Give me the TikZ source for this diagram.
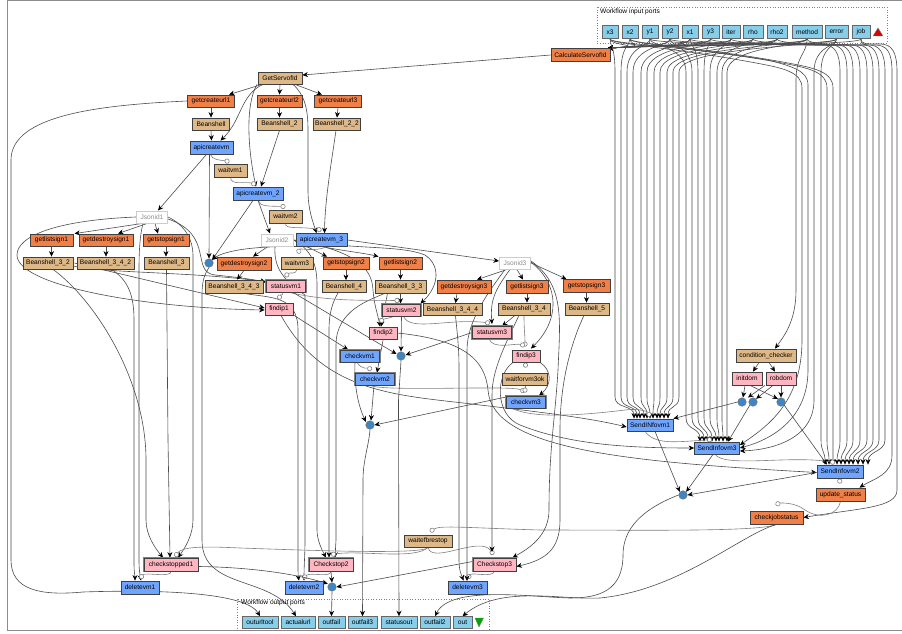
\documentclass[tikz,border=0pt]{standalone}
\usepackage{fontspec}
\setmainfont{Liberation Sans}
\usetikzlibrary{arrows.meta,backgrounds}
\definecolor{cOrange}{HTML}{F08048}
\definecolor{cTan}{HTML}{DEB887}
\definecolor{cPink}{HTML}{FFB6C1}
\definecolor{cBlue}{HTML}{6FA5FF}
\definecolor{cPort}{HTML}{87CEEB}
\definecolor{cDot}{HTML}{3D85C6}
\tikzset{
  lbl/.style={font=\fontsize{6.6}{7}\selectfont},
  box/.style={lbl,draw=black!75,line width=0.8,inner sep=0,minimum height=12},
  orangebox/.style={box,fill=cOrange},
  tanbox/.style={box,fill=cTan},
  pinkbox/.style={box,fill=cPink},
  bluebox/.style={box,fill=cBlue},
  portbox/.style={box,fill=cPort,draw=black!60,line width=1},
  jsonbox/.style={box,fill=white,draw=black!20,text=black!45,line width=1},
  dbl/.style={preaction={draw=black!50,line width=2.6}},
  dot/.style={circle,fill=cDot,draw=black!55,line width=.5,minimum size=8.5,inner sep=0},
  edge/.style={draw=black!70,line width=0.6,-{Stealth[length=5.5pt,width=5pt,color=black]}},
  ctrl/.style={draw=black!50,line width=0.6,-{Circle[open,fill=white,length=5pt,width=5pt]}},
  portframe/.style={draw=black!50,dotted,line width=0.6},
  frameline/.style={draw=black!45,line width=1.2}
}
\newcommand{\tipin}[4]{.. controls +(0,#4) and ([xshift=#3,yshift=14]#2.north) .. ([xshift=#3]#2.north)}
\newcommand{\feed}[6]{\draw[edge] (#1.south) .. controls +(0,7) and (#2,46) .. (#2,72) -- (#2,#3) \tipin{x}{#4}{#5}{#6};}
\newcommand{\feedband}[6]{\draw[edge] (#1.south) .. controls +(0,5) and (#2-50,45) .. (#2-16,45) .. controls (#2-6,45) and (#2,52) .. (#2,72) -- (#2,#3) \tipin{x}{#4}{#5}{#6};}
\newcommand{\feedslope}[6]{\draw[edge] (#1.south) .. controls +(0,5) and (#2-130,47) .. (#2-45,63) .. controls (#2-18,68) and (#2,72) .. (#2,88) -- (#2,#3) \tipin{x}{#4}{#5}{#6};}
\begin{document}
\begin{tikzpicture}[x=1pt,y=-1pt]
\useasboundingbox (0,0) rectangle (902,634);
% ports
\node[portbox,minimum width=16,minimum height=13] (px3) at (610,32) {x3};
\node[portbox,minimum width=16,minimum height=13] (px2) at (630,32) {x2};
\node[portbox,minimum width=16,minimum height=13] (py1) at (650,32) {y1};
\node[portbox,minimum width=16,minimum height=13] (py2) at (670,32) {y2};
\node[portbox,minimum width=16,minimum height=13] (px1) at (690,32) {x1};
\node[portbox,minimum width=17,minimum height=13] (py3) at (710.5,32) {y3};
\node[portbox,minimum width=18,minimum height=13] (piter) at (731,32) {iter};
\node[portbox,minimum width=20,minimum height=13] (prho) at (753,32) {rho};
\node[portbox,minimum width=20,minimum height=13] (prhotwo) at (777,32) {rho2};
\node[portbox,minimum width=30,minimum height=13] (pmethod) at (807,32) {method};
\node[portbox,minimum width=23,minimum height=13] (perror) at (836.5,32) {error};
\node[portbox,minimum width=18,minimum height=13] (pjob) at (861,32) {job};
\node[orangebox,minimum width=59,minimum height=12.5] (calc) at (580.5,55) {CalculateServofId};
\node[tanbox,minimum width=44] (getserv) at (280,78) {GetServofId};
\node[orangebox,minimum width=47] (url1) at (211,101) {getcreateurl1};
\node[orangebox,minimum width=45] (url2) at (279.5,101) {getcreateurl2};
\node[orangebox,minimum width=47] (url3) at (338,101) {getcreateurl3};
\node[tanbox,minimum width=37] (bs) at (211,124) {Beanshell};
\node[tanbox,minimum width=45] (bs2) at (279.5,124) {Beanshell\_2};
\node[tanbox,minimum width=47] (bs22) at (337,124) {Beanshell\_2\_2};
\node[bluebox,minimum width=43,minimum height=13] (api1) at (211.5,147.5) {apicreatevm};
\node[tanbox,minimum width=33,minimum height=13] (wait1) at (230.5,170.5) {waitvm1};
\node[bluebox,minimum width=50,minimum height=13] (api2) at (258,193.5) {apicreatevm\_2};
\node[tanbox,minimum width=33,minimum height=13] (wait2) at (285.5,216.5) {waitvm2};
\node[jsonbox,minimum width=31] (json1) at (152,217) {Jsonid1};
\node[orangebox,minimum width=43] (list1) at (51.5,240) {getlistsign1};
\node[orangebox,minimum width=54] (destroy1) at (106,240) {getdestroysign1};
\node[orangebox,minimum width=46] (stop1) at (166,240) {getstopsign1};
\node[tanbox,minimum width=50] (bs32) at (48,263) {Beanshell\_3\_2};
\node[tanbox,minimum width=57] (bs342) at (105.5,263) {Beanshell\_3\_4\_2};
\node[tanbox,minimum width=45] (bs3) at (166.5,263) {Beanshell\_3};
\node[dot] (dotA) at (209,263) {};
\node[orangebox,minimum width=54,minimum height=13] (destroy2) at (244,263.5) {getdestroysign2};
\node[jsonbox,minimum width=32] (json2) at (277,240) {Jsonid2};
\node[bluebox,minimum width=51,minimum height=13] (api3) at (321.5,240) {apicreatevm\_3};
\node[tanbox,minimum width=32] (wait3) at (297,263) {waitvm3};
\node[orangebox,minimum width=46] (stop2) at (346,263) {getstopsign2};
\node[orangebox,minimum width=43] (list2) at (400.5,263) {getlistsign2};
\node[tanbox,minimum width=58,minimum height=13] (bs343) at (234,286.5) {Beanshell\_3\_4\_3};
\node[pinkbox,dbl,minimum width=39] (status1) at (286,286) {statusvm1};
\node[tanbox,minimum width=44] (bs4) at (344,286.5) {Beanshell\_4};
\node[tanbox,minimum width=51,minimum height=13] (bs33) at (400.5,286.5) {Beanshell\_3\_3};
\node[orangebox,minimum width=54,minimum height=13] (destroy3) at (464,286.5) {getdestroysign3};
\node[orangebox,minimum width=42,minimum height=13] (list3) at (527,286.5) {getlistsign3};
\node[jsonbox,minimum width=31] (json3) at (515,263) {Jsonid3};
\node[orangebox,minimum width=47,minimum height=13] (stop3) at (586.5,286) {getstopsign3};
\node[tanbox,minimum width=52] (bs34) at (524,309) {Beanshell\_3\_4};
\node[tanbox,minimum width=44] (bs5) at (587,309) {Beanshell\_5};
\node[pinkbox,minimum width=28] (findip1) at (279,309) {findip1};
\node[pinkbox,dbl,minimum width=38] (status2) at (401.5,310) {statusvm2};
\node[tanbox,minimum width=59] (bs344) at (452.5,309.5) {Beanshell\_3\_4\_4};
\node[pinkbox,dbl,minimum width=39] (status3) at (492,332.5) {statusvm3};
\node[pinkbox,minimum width=28] (findip2) at (383,333) {findip2};
\node[dot] (dotB) at (401,356) {};
\node[bluebox,dbl,minimum width=39] (check1) at (360,356) {checkvm1};
\node[bluebox,dbl,minimum width=39] (check2) at (375,379) {checkvm2};
\node[pinkbox,minimum width=28] (findip3) at (526,356) {findip3};
\node[tanbox,minimum width=45] (waitok) at (525,379) {waitforvm3ok};
\node[bluebox,dbl,minimum width=39] (check3) at (526,402) {checkvm3};
\node[dot] (dotC) at (370,425) {};
\node[bluebox,minimum width=46] (send1) at (650,425) {SendINfovm1};
\node[bluebox,minimum width=45] (send3) at (717,448) {SendInfovm3};
\node[bluebox,minimum width=46,minimum height=13] (send2) at (840,471.5) {SendInfovm2};
\node[tanbox,minimum width=60,minimum height=13] (cond) at (766,355.5) {condition\_checker};
\node[pinkbox,minimum width=30,minimum height=13] (initdom) at (747,378.5) {initdom};
\node[pinkbox,minimum width=30,minimum height=13] (robdom) at (781,378.5) {robdom};
\node[dot] (dotD) at (742,402) {};
\node[dot] (dotE) at (753,402) {};
\node[dot] (dotF) at (781,402) {};
\node[dot] (dotG) at (683,495) {};
\node[orangebox,minimum width=49,minimum height=13] (update) at (840.5,494.5) {update\_status};
\node[orangebox,minimum width=53,minimum height=13] (jobstatus) at (776.5,517.5) {checkjobstatus};
\node[tanbox,minimum width=48] (waitstop) at (428,541) {waitefbrestop};
\node[pinkbox,dbl,minimum width=54,minimum height=13] (stopped1) at (171,564.5) {checkstopped1};
\node[pinkbox,dbl,minimum width=44,minimum height=13] (stopTwo) at (331,564.5) {Checkstop2};
\node[pinkbox,dbl,minimum width=43,minimum height=13] (stopThree) at (494.5,564.5) {Checkstop3};
\node[bluebox,minimum width=38,minimum height=13] (del1) at (140,587.5) {deletevm1};
\node[bluebox,minimum width=38,minimum height=13] (del2) at (304,587.5) {deletevm2};
\node[bluebox,minimum width=39,minimum height=13] (del3) at (467.5,587.5) {deletevm3};
\node[dot] (dotH) at (332,587) {};
\node[portbox,minimum width=36,minimum height=11.5] (outtool) at (260,622.5) {outurltool};
\node[portbox,minimum width=34,minimum height=11.5] (outurl) at (298,622.5) {actualurl};
\node[portbox,minimum width=27,minimum height=11.5] (outfail) at (331.5,622.5) {outfail};
\node[portbox,minimum width=29,minimum height=11.5] (outfailc) at (362.5,622.5) {outfail3};
\node[portbox,minimum width=36,minimum height=11.5] (outstatus) at (399,622.5) {statusout};
\node[portbox,minimum width=30,minimum height=11.5] (outfailb) at (435,622.5) {outfail2};
\node[portbox,minimum width=19,minimum height=11.5] (outout) at (462.5,622.5) {out};
\node[lbl,anchor=west,inner sep=0] (inlabel) at (600,11.5) {Workflow input ports};
\node[lbl,anchor=west,inner sep=0] (outlabel) at (241,603) {Workflow output ports};
\draw[draw=black!50,fill=red!85!black,line width=.4] (873,36) -- (883,36) -- (878,28) -- cycle;
\draw[draw=black!50,fill=green!65!black,line width=.4] (475,618) -- (483.5,618) -- (479,627) -- cycle;
\begin{scope}[on background layer]
\fill[white] (0,0) rectangle (902,634);
\draw[frameline] (902,0.5) -- (7.5,0.5) -- (7.5,630.5) -- (902,630.5);
\draw[portframe] (597,7) rectangle (887,43);
\draw[portframe] (237,599) rectangle (489,630);
% ports to Calculate
\foreach \p in {px3,px2,py1,py2,px1,py3,piter,prho,prhotwo,pmethod,perror,pjob}
  \draw[edge] (\p.south) .. controls +(0,7) and (650,45) .. ([xshift=-3]calc.north east);
% bundle 1
\foreach \p/\v/\t in {px3/615/-16,px2/621/-13,py1/627/-10,py2/633/-6,px1/641/-3,py3/647/0,piter/654/3,prho/660/7,prhotwo/667/10,pmethod/673/14,perror/679/18}
  {\feed{\p}{\v}{397}{send1}{\t}{12}}
% bundle 2
\foreach \p/\v/\t in {py1/686/-17,py2/692/-13,px1/698/-9,py3/704/-5,piter/710/-1,prho/717/2,prhotwo/722/6,pmethod/727/10}
  {\feed{\p}{\v}{418}{send3}{\t}{12}}
\draw[edge] (px3.south) .. controls +(0,5) and (801-130,47) .. (801-45,63) .. controls (801-18,68) and (802,72) .. (802,88) -- (802,340) .. controls (802,400) and (770,425) .. ([yshift=3]send3.east);
\draw[edge] (px2.south) .. controls +(0,5) and (808-120,47) .. (808-40,60) .. controls (808-18,66) and (808,70) .. (808,85) -- (808,370) .. controls (808,420) and (770,440) .. (send3.east);
\draw[edge] (perror.south) .. controls +(0,7) and (814,46) .. (814,72) -- (814,400) .. controls (814,440) and (770,450) .. ([yshift=-3]send3.east);
% bundle 3
\feed{perror}{821}{440}{send2}{-15}{12}
\feedslope{px3}{827}{440}{send2}{-11}{12}
\feedslope{px2}{833}{440}{send2}{-7}{12}
\foreach \p/\v/\t in {py1/840/-3,py2/847/1,px1/853/5,py3/860/9,piter/867/13,prho/873/18,prhotwo/879/23,pmethod/885/28}
  {\feedband{\p}{\v}{440}{send2}{\t}{12}}
\draw[edge] (pmethod.south) .. controls +(0,15) and (796,55) .. (796,80) -- (796,290) .. controls (796,320) and (785,335) .. ([xshift=9]cond.north);
\draw[edge] (pjob.south) .. controls +(0,5) and (860,45) .. (875,45) .. controls (887,45) and (892,52) .. (892,72) -- (892,455) .. controls (892,475) and (875,478) .. ([xshift=19]update.north);
\draw[edge] (pjob.south) .. controls +(0,5) and (865,44) .. (880,44) .. controls (892,44) and (897,52) .. (897,72) -- (897,490) .. controls (897,508) and (860,508) .. (jobstatus.east);
% top
\draw[edge] (calc.west) -- ([yshift=3]getserv.east);
\draw[edge] ([xshift=-18]getserv.south) -- ([xshift=18]url1.north);
\draw[edge] (getserv.south) -- (url2.north);
\draw[edge] ([xshift=15]getserv.south) -- ([xshift=-16]url3.north);
\draw[edge] (url1.south) -- (bs.north);
\draw[edge] (url2.south) -- (bs2.north);
\draw[edge] (url3.south) -- (bs22.north);
\draw[edge] (bs.south) -- (api1.north);
\draw[edge] ([xshift=-17]getserv.south) .. controls (240,95) and (242,120) .. ([xshift=9]api1.north);
\draw[edge] ([xshift=-23]getserv.south) .. controls (245,105) and (248,150) .. ([xshift=-2]api2.north);
\draw[edge] ([xshift=13]getserv.south) .. controls (305,95) and (308,110) .. (308,130) -- (308,190) .. controls (308,210) and (313,222) .. ([xshift=-5]api3.north);
\draw[edge] (bs2.south) -- ([xshift=3]api2.north);
\draw[edge] ([xshift=-1]bs22.south) .. controls (331,165) and (325,200) .. ([xshift=3]api3.north);
\draw[ctrl] ([xshift=-1]api1.south) .. controls (212,160) and (220,160) .. ([xshift=-1,yshift=2]wait1.north);
\draw[ctrl] (wait1.south) .. controls (231,186) and (245,181) .. ([xshift=-2,yshift=2]api2.north);
\draw[edge] ([xshift=-5]api1.south) -- ([xshift=6]json1.north);
\draw[edge] ([xshift=-2]api1.south) -- (dotA.north);
\draw[edge] ([xshift=-5]api2.south) -- (dotA.north east);
\draw[ctrl] (api2.south) .. controls (260,207) and (270,206) .. ([yshift=3]wait2.north);
\draw[ctrl] (wait2.south) .. controls (285,230) and (300,226) .. ([yshift=3]api3.north);
\draw[edge] (api2.south) -- ([xshift=-7]json2.north);
\draw[edge] ([xshift=-10]json1.south) -- ([xshift=23]list1.north);
\draw[edge] ([xshift=-5]json1.south) -- ([xshift=12]destroy1.north);
\draw[edge] ([xshift=3]json1.south) -- ([xshift=-8]stop1.north);
\draw[edge] (list1.south) -- (list1.south |- bs32.north);
\draw[edge] (destroy1.south) -- (destroy1.south |- bs342.north);
\draw[edge] (stop1.south) -- (stop1.south |- bs3.north);
\draw[edge] (json1.west) .. controls (60,220) and (17,235) .. (17,255) .. controls (17,285) and (140,308) .. ([yshift=-1]findip1.west);
\draw[edge] ([xshift=-9]json1.south) .. controls (140,235) and (139,250) .. (139,270) -- (139,560) .. controls (139,570) and (140,575) .. ([xshift=1]del1.north);
\draw[edge] ([xshift=6]bs342.south) .. controls (128,280) and (134,295) .. (134,320) -- (134,565) .. controls (134,572) and (135,576) .. ([xshift=-5]del1.north);
\draw[edge] ([xshift=5]bs32.south) .. controls (95,300) and (146,380) .. (146,460) -- (146,520) .. controls (146,535) and (155,548) .. ([xshift=-8]stopped1.north);
\draw[edge] (bs3.south) -- (168,440) -- ([xshift=-1]stopped1.north);
\draw[edge] (json1.east) .. controls (185,225) and (193,240) .. (193,255) -- (193,520) .. controls (193,535) and (185,548) .. ([xshift=7]stopped1.north);
\draw[edge] ([yshift=-2]json1.east) .. controls (215,235) and (190,272) .. (215,275) .. controls (235,277) and (250,279) .. ([yshift=4]status1.west);
\draw[edge] ([xshift=1]bs32.east) -- ([yshift=1]findip1.west);
\draw[edge] ([yshift=-3]bs32.east) .. controls (100,273) and (200,272) .. ([yshift=4]status1.west);
\draw[edge] (dotA.south) .. controls (204,275) and (202,282) .. (202,295) -- (202,540) .. controls (202,590) and (270,575) .. ([xshift=-2]outurl.north);
\draw[edge] (url1.west) .. controls (100,105) and (11,115) .. (11,160) -- (11,560) .. controls (11,590) and (40,596) .. (83,592) .. controls (140,590) and (245,590) .. (outtool.north);
\draw[edge] ([xshift=-9]json2.south) -- ([xshift=9]destroy2.north);
\draw[edge] (destroy2.south) -- ([xshift=3]bs343.north);
\draw[edge] (stop2.south) -- (stop2.south |- bs4.north);
\draw[edge] (list2.south) -- (list2.south |- bs33.north);
\draw[edge] (list3.south) -- (list3.south |- bs34.north);
\draw[edge] (stop3.south) -- (stop3.south |- bs5.north);
\draw[edge] ([xshift=-7]destroy3.south) -- ([xshift=3]bs344.north);
\draw[edge] ([xshift=-10]api3.south) .. controls (260,245) and (225,250) .. (dotA.north east);
\draw[edge] (json2.east) -- ([xshift=-19]stop2.north);
\draw[edge] (json2.east) .. controls (330,250) and (360,252) .. ([xshift=-22]list2.north);
\draw[edge] ([xshift=-2]json2.south) .. controls (274,265) and (280,278) .. (305,295) -- (305,540) .. controls (305,555) and (304,565) .. (del2.north);
\draw[edge] ([xshift=10]bs343.south) .. controls (270,298) and (298,295) .. (298,330) -- (298,560) .. controls (298,570) and (298,575) .. ([xshift=-5]del2.north);
\draw[edge] (json2.east) .. controls (312,250) and (317,265) .. (317,285) -- (317,530) .. controls (317,540) and (322,550) .. ([xshift=-5]stopTwo.north);
\draw[edge] ([xshift=-6]bs4.south) .. controls (334,300) and (329,310) .. (329,330) -- (329,550) -- ([xshift=-2]stopTwo.north);
\draw[edge] ([xshift=-16]bs33.south) .. controls (370,300) and (336,310) .. (336,345) -- (336,540) -- ([xshift=4]stopTwo.north);
\draw[edge] (bs33.south) -- ([xshift=-1]status2.north);
\draw[edge] ([xshift=-13]bs33.south) -- ([xshift=-2]findip2.north);
\draw[edge] (json2.east) .. controls (360,250) and (400,245) .. (425,255) .. controls (440,265) and (440,285) .. ([xshift=19]status2.north);
\draw[edge] (json2.east) .. controls (350,250) and (372,265) .. (373,290) .. controls (374,305) and (378,315) .. ([xshift=-3]findip2.north);
\draw[edge] (api3.east) -- ([yshift=2]json3.west);
\draw[ctrl] ([xshift=5]api3.south) .. controls (315,252) and (300,248) .. ([xshift=1,yshift=3]wait3.north);
\draw[ctrl] (wait3.south) .. controls (296,275) and (290,272) .. ([xshift=-1,yshift=3]status1.north);
\draw[ctrl] ([xshift=-3]status1.south) .. controls (283,296) and (280,295) .. ([yshift=3]findip1.north);
\draw[ctrl] ([xshift=3]status1.south) .. controls (330,302) and (370,300) .. ([xshift=-2,yshift=3]status2.north);
\draw[edge] ([xshift=14]findip1.east) ++(-14,6) -- ([xshift=-12]check1.north);
\draw[edge] ([xshift=2]findip1.south) .. controls (325,395) and (400,395) .. (480,405) .. controls (540,412) and (590,418) .. ([yshift=-2]send1.west);
\draw[edge] ([xshift=7]status1.south) -- ([yshift=2]dotB.west);
\draw[edge] (status2.south) -- (dotB.north);
\draw[edge] (status3.west) -- ([yshift=1]dotB.east);
\draw[ctrl] ([xshift=-7]status2.south) .. controls (375,322) and (380,318) .. ([yshift=4]findip2.north);
\draw[ctrl] ([xshift=2]status2.south) .. controls (410,332) and (450,318) .. ([xshift=-2,yshift=3]status3.north);
\draw[edge] ([yshift=-1]findip2.south) -- ([xshift=2]check2.north);
\draw[edge] (findip2.east) .. controls (465,340) and (485,360) .. (488,390) .. controls (492,450) and (630,462) .. ([yshift=-1]send2.west);
\draw[ctrl] ([xshift=-3]check1.south) .. controls (362,370) and (368,368) .. ([xshift=-3,yshift=3]check2.north);
\draw[edge] ([xshift=-5]check1.south) .. controls (354,385) and (358,405) .. ([xshift=-1]dotC.north west);
\draw[edge] ([xshift=-1]check2.south) -- ([xshift=1]dotC.north);
\draw[edge] ([yshift=5]check3.west) -- (dotC.east);
\draw[ctrl] ([xshift=-5]check2.south) .. controls (385,392) and (510,385) .. ([xshift=-1,yshift=4]check3.north);
\draw[edge] (dotC.south) .. controls (369,445) and (363,460) .. (363,480) -- (outfailc.north);
\draw[edge] (dotB.south) -- (398.5,400) -- (outstatus.north);
% vm3
\draw[edge] ([xshift=-8]json3.south) -- ([xshift=13]destroy3.north);
\draw[edge] ([xshift=2]json3.south) -- ([xshift=-4]list3.north);
\draw[edge] (json3.east) -- ([xshift=-20]stop3.north);
\draw[edge] ([xshift=-5]json3.south) .. controls (495,290) and (490,300) .. ([yshift=2]status3.north);
\draw[edge] ([yshift=1]json3.east) .. controls (560,285) and (560,320) .. ([xshift=5,yshift=1]findip3.north);
\draw[edge] ([xshift=-9]bs34.south) -- ([xshift=10]status3.north);
\draw[ctrl] (bs34.south) .. controls (524,330) and (525,335) .. ([xshift=-1,yshift=3]findip3.north);
\draw[ctrl] ([xshift=-3]status3.south) .. controls (493,350) and (515,343) .. ([xshift=-1,yshift=4]findip3.north);
\draw[ctrl] (findip3.south) -- ([yshift=5]waitok.north);
\draw[ctrl] (waitok.south) -- ([xshift=-1,yshift=3]check3.north);
\draw[edge] ([xshift=14]findip3.south) .. controls (552,370) and (552,385) .. ([xshift=13]check3.north);
\draw[edge] ([xshift=-13]findip3.south) .. controls (495,375) and (495,415) .. (520,425) .. controls (570,445) and (630,448) .. (send3.west);
\draw[ctrl] ([xshift=-14]check3.south) .. controls (528,416) and (560,418) .. (625,410) .. controls (640,408) and (648,412) .. ([yshift=2]send1.north);
\draw[ctrl] ([xshift=-5]send1.south) .. controls (655,445) and (675,442) .. ([xshift=-5,yshift=2]send3.north);
\draw[ctrl] ([xshift=-2]send3.south) .. controls (725,468) and (790,455) .. ([xshift=-5,yshift=2]send2.north);
\draw[ctrl] (send2.south) -- ([xshift=-1,yshift=4]update.north);
\draw[ctrl] (update.south) .. controls (838,515) and (820,520) .. (805,510) .. controls (795,502) and (780,503) .. ([xshift=-1,yshift=6]jobstatus.north);
\draw[ctrl] (jobstatus.south) .. controls (760,532) and (640,530) .. (540,530) .. controls (470,528) and (440,525) .. ([xshift=2,yshift=3]waitstop.north);
\draw[ctrl] (waitstop.south) .. controls (425,555) and (300,550) .. (240,548) .. controls (200,546) and (182,547) .. ([xshift=4,yshift=1]stopped1.north);
\draw[ctrl] (waitstop.south) .. controls (415,560) and (360,550) .. ([yshift=3]stopTwo.north);
\draw[ctrl] (waitstop.south) .. controls (432,565) and (480,535) .. ([xshift=-1,yshift=3]stopThree.north);
\draw[ctrl] (stopped1.south) .. controls (172,578) and (145,572) .. ([yshift=2]del1.north);
\draw[ctrl] (stopTwo.south) .. controls (331,578) and (310,572) .. ([xshift=-1,yshift=2]del2.north);
\draw[ctrl] (stopThree.south) .. controls (492,578) and (472,572) .. ([yshift=2]del3.north);
\draw[edge] ([yshift=-2]stopped1.east) .. controls (240,567) and (290,572) .. ([xshift=-1]dotH.north west);
\draw[edge] (stopTwo.south) -- (dotH.north);
\draw[edge] ([yshift=3]stopThree.west) -- (dotH.east);
\draw[edge] (dotH.south) -- (outfail.north);
\draw[edge] ([xshift=3]bs344.south) .. controls (458,340) and (459,350) .. (459,370) -- (459,560) .. controls (459,570) and (461,574) .. ([xshift=-4]del3.north);
\draw[edge] ([xshift=-10]json3.south) .. controls (490,290) and (467,320) .. (467,350) -- (467,581);
\draw[edge] ([xshift=-5]bs34.south) .. controls (505,345) and (492,370) .. (492,395) -- (492,552);
\draw[edge] ([yshift=2]json3.east) .. controls (565,285) and (560,320) .. (558,370) .. controls (555,420) and (549,450) .. (549,510) .. controls (549,535) and (530,548) .. ([xshift=18]stopThree.north);
\draw[edge] ([xshift=-3]bs5.south) .. controls (570,345) and (560,385) .. (560,430) -- (560,520) .. controls (560,550) and (545,560) .. ([yshift=-2]stopThree.east);
% lower right
\draw[edge] ([xshift=-7]cond.south) -- ([xshift=6]initdom.north);
\draw[edge] ([xshift=3]cond.south) -- ([xshift=-6]robdom.north);
\draw[edge] ([xshift=-2]initdom.south) -- ([xshift=1]dotD.north);
\draw[edge] ([xshift=3]initdom.south) -- (dotF.north west);
\draw[edge] ([xshift=-16]robdom.south) -- ([xshift=6]dotD.north);
\draw[edge] ([xshift=-8]robdom.south) -- (dotE.north east);
\draw[edge] (robdom.south) -- (dotF.north);
\draw[edge] (dotD.west) -- (send1.north east);
\draw[edge] (dotE.south west) -- ([xshift=11]send3.north);
\draw[edge] (dotF.south east) -- ([xshift=-13]send2.north);
\draw[edge] ([xshift=5]send1.south) -- (dotG.north west);
\draw[edge] ([xshift=-4]send3.south) -- (dotG.north east);
\draw[edge] ([yshift=-1]send2.west) -- (dotG.east);
\draw[edge] (dotG.west) .. controls (640,510) and (623,530) .. (623,555) .. controls (623,590) and (600,598) .. (570,598) .. controls (530,597) and (450,585) .. (outfailb.north);
\draw[edge] (jobstatus.south) .. controls (740,535) and (680,590) .. (600,598) .. controls (560,600) and (500,585) .. (outout.north);
\end{scope}
\end{tikzpicture}
\end{document}
